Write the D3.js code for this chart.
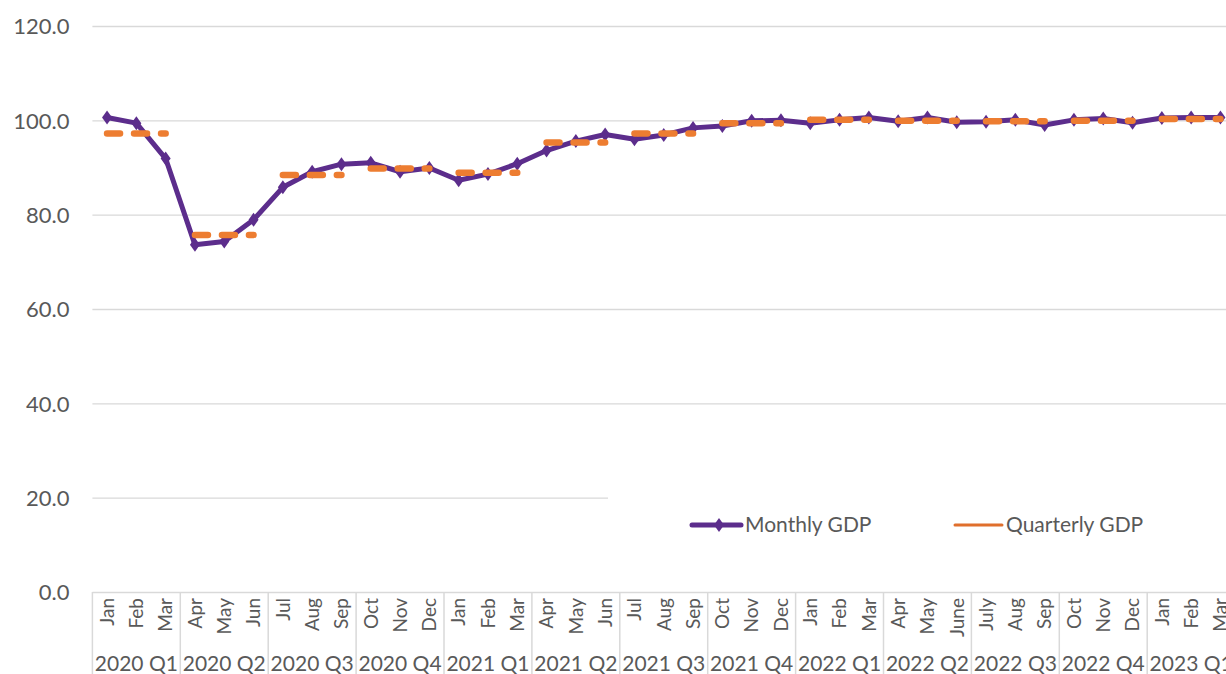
<!DOCTYPE html>
<html lang="en">
<head>
    <meta charset="UTF-8">
    <title>Monthly and Quarterly GDP</title>
    <script src="https://d3js.org/d3.v7.min.js"></script>
    <style>
        body { margin: 0; background: #fff; }
        svg text { font-family: Lato, "Open Sans", sans-serif; fill: #595959; }
        .grid line { stroke: #d9d9d9; stroke-width: 1.3; }
    </style>
</head>
<body>
    <svg id="chart" width="1226" height="674"></svg>
    <script>
        // Data
        const months = ["Jan", "Feb", "Mar", "Apr", "May", "Jun", "Jul", "Aug", "Sep", "Oct", "Nov", "Dec",
                        "Jan", "Feb", "Mar", "Apr", "May", "Jun", "Jul", "Aug", "Sep", "Oct", "Nov", "Dec",
                        "Jan", "Feb", "Mar", "Apr", "May", "June", "July", "Aug", "Sep", "Oct", "Nov", "Dec",
                        "Jan", "Feb", "Mar"];
        const quarters = ["2020 Q1", "2020 Q2", "2020 Q3", "2020 Q4",
                          "2021 Q1", "2021 Q2", "2021 Q3", "2021 Q4",
                          "2022 Q1", "2022 Q2", "2022 Q3", "2022 Q4", "2023 Q1"];
        const monthlyGDP = [100.6, 99.4, 91.9, 73.6, 74.3, 78.9, 85.8, 89.1, 90.7, 91.0, 89.1, 89.9,
                            87.3, 88.6, 90.8, 93.6, 95.6, 97.0, 96.0, 96.9, 98.4, 98.8, 99.9, 100.0,
                            99.4, 100.1, 100.6, 99.8, 100.6, 99.6, 99.7, 100.1, 99.0, 100.1, 100.4, 99.5,
                            100.5, 100.6, 100.6];
        const quarterlyGDP = [97.2, 75.7, 88.4, 89.8, 88.9, 95.3, 97.2, 99.4, 100.1, 99.9, 99.8, 99.9, 100.3];
        const yTicks = [0, 20, 40, 60, 80, 100, 120];

        const svg = d3.select("#chart");
        const plotLeft = 92.4, plotRight = 1235.1, plotTop = 26, plotBottom = 592;

        const x = d3.scaleBand()
            .domain(d3.range(months.length))
            .range([plotLeft, plotRight]);
        const bw = x.bandwidth();
        const cx = i => x(i) + bw / 2;

        const y = d3.scaleLinear()
            .domain([0, 120])
            .range([plotBottom, plotTop]);

        // y axis + gridlines
        const yAxis = svg.append("g")
            .attr("class", "grid")
            .attr("transform", `translate(${plotLeft},0)`)
            .call(d3.axisLeft(y)
                .tickValues(yTicks)
                .tickFormat(d3.format(".1f"))
                .tickSize(-(plotRight - plotLeft))
                .tickPadding(23));
        yAxis.select(".domain").remove();
        yAxis.selectAll("text")
            .style("font-size", "22px")
            .attr("dy", "0.36em");

        // month labels
        const xAxis = svg.append("g")
            .attr("transform", `translate(0,${plotBottom})`)
            .call(d3.axisBottom(x).tickSize(0).tickFormat(i => months[i]));
        xAxis.select(".domain").remove();
        xAxis.selectAll("text")
            .style("font-size", "19px")
            .attr("transform", "rotate(-90)")
            .attr("text-anchor", "end")
            .attr("x", -6)
            .attr("y", 0)
            .attr("dy", "0.36em");

        // quarter separators and labels
        svg.append("g").selectAll("line")
            .data(d3.range(quarters.length + 1))
            .join("line")
            .attr("x1", k => k < quarters.length ? x(k * 3) : plotRight)
            .attr("x2", k => k < quarters.length ? x(k * 3) : plotRight)
            .attr("y1", plotBottom)
            .attr("y2", 674)
            .attr("stroke", "#d9d9d9")
            .attr("stroke-width", 1.5);

        svg.append("g").selectAll("text")
            .data(quarters)
            .join("text")
            .attr("x", (d, k) => x(k * 3) + bw * 1.5)
            .attr("y", 671)
            .attr("text-anchor", "middle")
            .style("font-size", "21px")
            .text(d => d);

        // legend background hides part of the 20 gridline
        svg.append("rect")
            .attr("x", 608).attr("y", 488)
            .attr("width", 640).attr("height", 70)
            .attr("fill", "#fff");

        // monthly line
        const line = d3.line()
            .x((d, i) => cx(i))
            .y(d => y(d));

        svg.append("path")
            .datum(monthlyGDP)
            .attr("fill", "none")
            .attr("stroke", "#5c2d8c")
            .attr("stroke-width", 5)
            .attr("stroke-linejoin", "round")
            .attr("d", line);

        const diamond = "M0,-7L5,0L0,7L-5,0Z";
        svg.append("g").selectAll("path")
            .data(monthlyGDP)
            .join("path")
            .attr("d", diamond)
            .attr("transform", (d, i) => `translate(${cx(i)},${y(d)})`)
            .attr("fill", "#5c2d8c");

        // quarterly segments (dashed)
        svg.append("g").selectAll("line")
            .data(quarterlyGDP)
            .join("line")
            .attr("x1", (d, k) => cx(k * 3))
            .attr("x2", (d, k) => cx(k * 3 + 2))
            .attr("y1", d => y(d))
            .attr("y2", d => y(d))
            .attr("stroke", "#ed7d31")
            .attr("stroke-width", 6.5)
            .attr("stroke-linecap", "round")
            .attr("stroke-dasharray", "13,14");

        // legend
        const legend = svg.append("g");
        legend.append("line")
            .attr("x1", 692).attr("x2", 741).attr("y1", 525).attr("y2", 525)
            .attr("stroke", "#5c2d8c").attr("stroke-width", 5).attr("stroke-linecap", "round");
        legend.append("path")
            .attr("d", diamond)
            .attr("transform", "translate(719,525)")
            .attr("fill", "#5c2d8c");
        legend.append("text")
            .attr("x", 745).attr("y", 532)
            .style("font-size", "21px")
            .text("Monthly GDP");
        legend.append("line")
            .attr("x1", 955).attr("x2", 1002).attr("y1", 525).attr("y2", 525)
            .attr("stroke", "#e06f2c").attr("stroke-width", 3).attr("stroke-linecap", "round");
        legend.append("text")
            .attr("x", 1006).attr("y", 532)
            .style("font-size", "21px")
            .text("Quarterly GDP");
    </script>
</body>
</html>
